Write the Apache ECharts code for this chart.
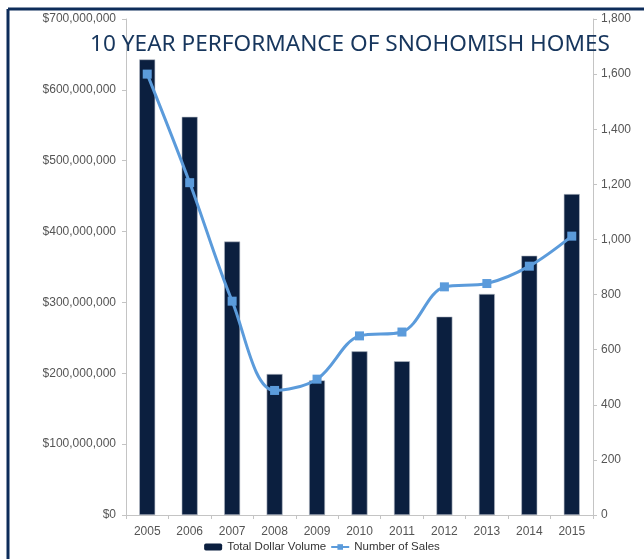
<!DOCTYPE html>
<html>
<head>
<meta charset="utf-8">
<title>Snohomish homes</title>
<script src="https://cdn.jsdelivr.net/npm/echarts@6/dist/echarts.min.js"></script>
<style>
	html,body{margin:0;padding:0;background:#fff;}
	#mapBox{width:644px;height:559px;}
</style>
</head>
<body>
<div id="mapBox"></div>
<script>
// data
var years = ['2005','2006','2007','2008','2009','2010','2011','2012','2013','2014','2015'];
var dollarVolume = [643000000,562000000,386000000,199000000,190000000,231000000,217000000,280000000,312000000,366000000,453000000];
var numberOfSales = [1600,1206,776,452,493,650,664,828,840,903,1012];

this.snoho = this.snoho||{};
(function(){
	var Chart = function(){
		this.init();
	};
	var p = Chart.prototype;

	p.init = function(){
		this.initDom();
		this.initOption();
		this.myChart.setOption(this.option);
	};

	p.initDom = function(){
		this.myChart = echarts.init(document.getElementById('mapBox'));
	};

	// 1234567 -> 1,234,567
	p.comma = function(v){
		return String(v).replace(/\B(?=(\d{3})+(?!\d))/g, ',');
	};

	p.initOption = function(){
		var cur = this;
		var grey = '#c4c4c4';
		var font = 'Liberation Sans, Arial';
		this.option = {
			animation:false,
			title:{
				text:'10 YEAR PERFORMANCE OF SNOHOMISH HOMES',
				left:345,
				top:28,
				textAlign:'center',
				z:20,
				textStyle:{color:'#17365d',fontSize:22.6,fontWeight:'normal',fontFamily:'Noto Sans'}
			},
			legend:{
				bottom:1,
				left:'center',
				itemWidth:18,
				itemHeight:7,
				itemGap:4,
				textStyle:{color:'#333',fontSize:11.5,fontFamily:font},
				data:[
					{name:'Total Dollar Volume',itemStyle:{borderWidth:0}},
					'Number of Sales'
				]
			},
			grid:{left:126,right:51,top:19,bottom:44},
			xAxis:{
				type:'category',
				data:years,
				axisLine:{show:true,lineStyle:{color:grey,width:1}},
				axisTick:{show:true,length:4,lineStyle:{color:grey}},
				axisLabel:{color:'#555',fontSize:12,fontFamily:font,margin:11}
			},
			yAxis:[
				{
					type:'value',
					min:0,max:700000000,interval:100000000,
					axisLine:{show:true,lineStyle:{color:grey,width:1}},
					axisTick:{show:true,length:4,lineStyle:{color:grey}},
					splitLine:{show:false},
					axisLabel:{color:'#555',fontSize:12,fontFamily:font,margin:10,
						formatter:function(v){return '$' + cur.comma(v);}}
				},
				{
					type:'value',
					min:0,max:1800,interval:200,
					axisLine:{show:true,lineStyle:{color:grey,width:1}},
					axisTick:{show:true,length:4,lineStyle:{color:grey}},
					splitLine:{show:false},
					axisLabel:{color:'#555',fontSize:12,fontFamily:font,margin:8,
						formatter:function(v){return cur.comma(v);}}
				}
			],
			series:[
				{
					name:'Total Dollar Volume',
					type:'bar',
					data:dollarVolume,
					barWidth:16,
					itemStyle:{color:'#0b1f3f',borderColor:'#b9bfc9',borderWidth:0.6}
				},
				{
					name:'Number of Sales',
					type:'line',
					yAxisIndex:1,
					data:numberOfSales,
					smooth:0.35,
					symbol:'rect',
					symbolSize:9,
					lineStyle:{color:'#5b9bdb',width:3},
					itemStyle:{color:'#5b9bdb'}
				}
			],
			graphic:[
				// frame round the picture
				{type:'line',shape:{x1:8,y1:9,x2:644,y2:9},style:{stroke:'#0d2c5a',lineWidth:3},z:30},
				{type:'line',shape:{x1:8,y1:9,x2:8,y2:559},style:{stroke:'#0d2c5a',lineWidth:3},z:30}
			]
		};
	};

	snoho.Chart = Chart;
})();

new snoho.Chart();
</script>
</body>
</html>
